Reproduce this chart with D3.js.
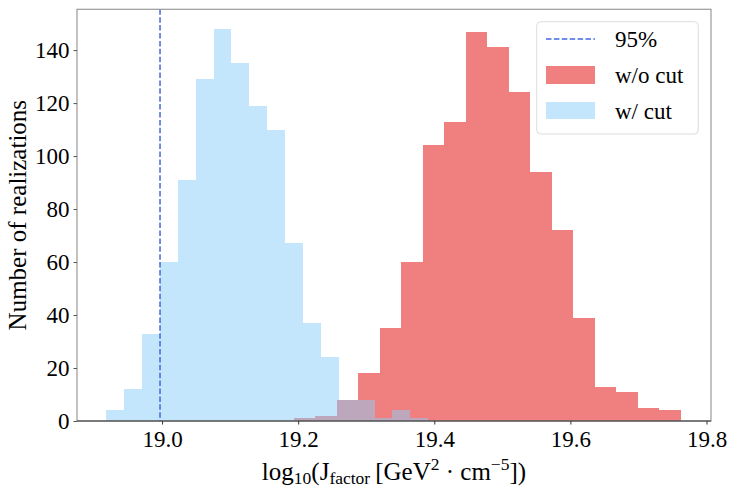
<!DOCTYPE html>
<html><head><meta charset="utf-8">
<script src="https://cdn.jsdelivr.net/npm/d3@7"></script>
<style>
body{margin:0;background:#fff}
svg{display:block}
svg text{font-family:"Liberation Serif","Times New Roman",serif !important;fill:#000}
</style>
</head><body>
<svg id="chart" width="734" height="491" font-family="Liberation Serif, serif"></svg>
<script>
// ---- data ----
const withoutCutCounts = [1, 2, 8, 18, 35, 60, 104, 113, 147, 141, 124, 94, 72, 39, 13, 11, 5, 4];
const withoutCutRange  = [19.1937, 19.7625];
const withCutCounts    = [4, 12, 33, 60, 91, 129, 148, 135, 119, 110, 67, 37, 24, 8, 8, 1, 4, 1];
const withCutRange     = [18.918, 19.391];
const line95 = 18.997;
const xTicks = [19.0, 19.2, 19.4, 19.6, 19.8];
const yTicks = [0, 20, 40, 60, 80, 100, 120, 140];
const legendLabels = ["95%", "w/o cut", "w/ cut"];

// ---- layout ----
const L = 77, R = 711, T = 9.3, B = 421;
const FONT = "Liberation Serif, Times New Roman, serif";
const svg = d3.select("#chart");

const x = d3.scaleLinear().domain([18.875, 19.8066]).range([L, R]);
const y = d3.scaleLinear().domain([0, 155.4]).range([B, T]);

function bins(counts, range) {
  const n = counts.length, [lo, hi] = range;
  return counts.map((c, i) => ({x0: lo + (hi - lo) * i / n, x1: lo + (hi - lo) * (i + 1) / n, c}));
}

const redColor = "#F08080", blueColor = "#87CEFA";

// red histogram (w/o cut)
svg.append("g").selectAll("rect").data(bins(withoutCutCounts, withoutCutRange)).join("rect")
  .attr("x", d => x(d.x0)).attr("width", d => x(d.x1) - x(d.x0))
  .attr("y", d => y(d.c)).attr("height", d => y(0) - y(d.c))
  .attr("fill", redColor).attr("shape-rendering", "crispEdges");

// blue histogram (w/ cut), semi-transparent
svg.append("g").selectAll("rect").data(bins(withCutCounts, withCutRange)).join("rect")
  .attr("x", d => x(d.x0)).attr("width", d => x(d.x1) - x(d.x0))
  .attr("y", d => y(d.c)).attr("height", d => y(0) - y(d.c))
  .attr("fill", blueColor).attr("fill-opacity", 0.5).attr("shape-rendering", "crispEdges");

// 95% line
svg.append("line")
  .attr("x1", x(line95)).attr("x2", x(line95)).attr("y1", T).attr("y2", B)
  .attr("stroke", "#4169E1").attr("stroke-width", 1.5).attr("stroke-dasharray", "5.5,2.4");

// spines
svg.append("rect").attr("x", L).attr("y", T).attr("width", R - L).attr("height", B - T)
  .attr("fill", "none").attr("stroke", "#999").attr("stroke-width", 1.2);
svg.append("line").attr("x1", L).attr("x2", R).attr("y1", B).attr("y2", B)
  .attr("stroke", "#333").attr("stroke-width", 1.2);

// axes
const xAxis = svg.append("g").attr("transform", `translate(0,${B})`)
  .call(d3.axisBottom(x).tickValues(xTicks).tickFormat(d3.format(".1f")).tickSize(3.5).tickPadding(5));
xAxis.attr("font-family", FONT).attr("font-size", 23);
xAxis.select(".domain").remove();
xAxis.selectAll("line").attr("stroke", "#333");
xAxis.selectAll("text").attr("font-size", 23).attr("font-family", FONT).attr("fill", "#000")
  .attr("y", 26).attr("dy", null);

const yAxis = svg.append("g").attr("transform", `translate(${L},0)`)
  .call(d3.axisLeft(y).tickValues(yTicks).tickSize(3.5).tickPadding(4));
yAxis.attr("font-family", FONT).attr("font-size", 23);
yAxis.select(".domain").remove();
yAxis.selectAll("line").attr("stroke", "#555");
yAxis.selectAll("text").attr("font-size", 23).attr("font-family", FONT).attr("fill", "#000")
  .attr("dy", "0.33em");

// y label
svg.append("text")
  .attr("transform", `translate(26,${(T + B) / 2}) rotate(-90)`)
  .attr("text-anchor", "middle").attr("font-size", 25).attr("font-family", FONT)
  .text("Number of realizations");

// x label with sub/superscripts
const xl = svg.append("text").attr("x", (L + R) / 2).attr("y", 480)
  .attr("text-anchor", "middle").attr("font-size", 25).attr("font-family", FONT);
xl.append("tspan").text("log");
xl.append("tspan").attr("font-size", 17.5).attr("dy", 4).text("10");
xl.append("tspan").attr("dy", -4).text("(J");
xl.append("tspan").attr("font-size", 17.5).attr("dy", 4).text("factor");
xl.append("tspan").attr("dy", -4).text("\u2009[GeV");
xl.append("tspan").attr("font-size", 17.5).attr("dy", -10).text("2");
xl.append("tspan").attr("dy", 10).text(" \u00B7 cm");
xl.append("tspan").attr("font-size", 17.5).attr("dy", -10).text("\u22125");
xl.append("tspan").attr("dy", 10).text("])");

// legend
const lg = svg.append("g");
lg.append("rect").attr("x", 536.7).attr("y", 21.7).attr("width", 161.6).attr("height", 112.3)
  .attr("rx", 4).attr("fill", "#fff").attr("fill-opacity", 0.8)
  .attr("stroke", "#ddd").attr("stroke-width", 1);
const rowY = [39, 75, 110.5];
lg.append("line").attr("x1", 546).attr("x2", 595).attr("y1", rowY[0]).attr("y2", rowY[0])
  .attr("stroke", "#4169E1").attr("stroke-width", 1.5).attr("stroke-dasharray", "5.5,2.4");
lg.append("rect").attr("x", 546).attr("y", rowY[1] - 9).attr("width", 49).attr("height", 18)
  .attr("fill", redColor);
lg.append("rect").attr("x", 546).attr("y", rowY[2] - 8.5).attr("width", 49).attr("height", 17)
  .attr("fill", blueColor).attr("fill-opacity", 0.5);
lg.selectAll("text.lab").data(legendLabels).join("text").attr("class", "lab")
  .attr("x", 615).attr("y", (d, i) => rowY[i]).attr("dy", "0.35em")
  .attr("font-size", 23).attr("font-family", FONT).text(d => d);
</script>
</body></html>
